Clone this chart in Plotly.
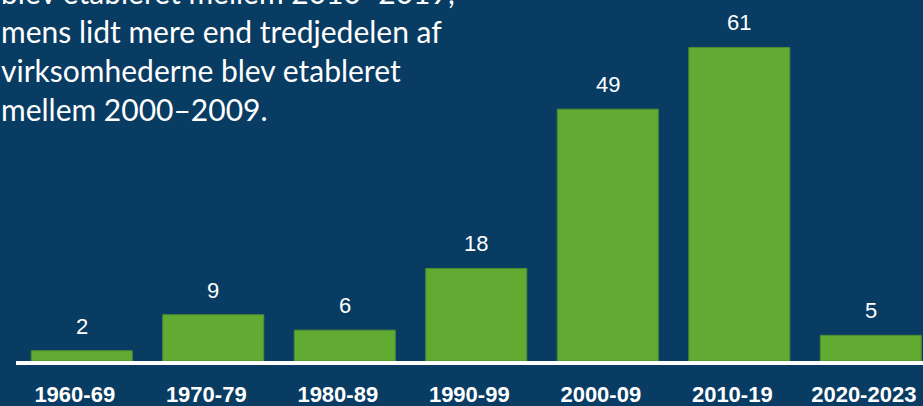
import plotly.graph_objects as go

categories = ["1960-69", "1970-79", "1980-89", "1990-99", "2000-09", "2010-19", "2020-2023"]
values = [2, 9, 6, 18, 49, 61, 5]
value_labels = [str(v) for v in values]
note_lines = [
    "blev etableret mellem 2010–2019,",
    "mens lidt mere end tredjedelen af",
    "virksomhederne blev etableret",
    "mellem 2000–2009.",
]

BG = "#083c62"
GREEN = "#62ab33"

fig = go.Figure()
fig.add_trace(go.Bar(
    x=categories, y=values,
    marker=dict(color=GREEN, line=dict(color="#4f8c32", width=1)),
    hoverinfo="skip",
))
# invisible trace to carry the (slightly shifted) category tick labels
fig.add_trace(go.Scatter(
    x=categories, y=values, xaxis="x2", mode="markers",
    marker=dict(opacity=0), hoverinfo="skip", showlegend=False,
))

for c, v, t in zip(categories, values, value_labels):
    fig.add_annotation(
        x=c, y=v, xref="x", yref="y", text=t, showarrow=False,
        yanchor="bottom", yshift=10,
        font=dict(family="Liberation Sans, Arial", size=22, color="white"),
    )

fig.add_annotation(
    xref="paper", yref="paper", x=-17 / 907, y=0.6425,
    xanchor="left", yanchor="bottom", align="left", showarrow=False,
    text="<br>".join(note_lines),
    font=dict(family="Lato", size=30, color="white"),
)

lo, hi = -0.5, 6.397
shift = 7 / 131.5
fig.update_layout(
    width=923, height=406,
    margin=dict(l=16, r=0, t=0, b=45, autoexpand=False),
    paper_bgcolor=BG, plot_bgcolor=BG,
    bargap=0.232, showlegend=False,
    xaxis=dict(
        type="category", range=[lo, hi], showticklabels=False, automargin=False,
        showline=True, linecolor="white", linewidth=3.5,
        showgrid=False, zeroline=False, ticks="",
    ),
    xaxis2=dict(
        type="category", range=[lo + shift, hi + shift], overlaying="x", anchor="y",
        side="bottom", showline=False, showgrid=False, zeroline=False, automargin=False,
        ticks="outside", ticklen=14, tickcolor="rgba(0,0,0,0)",
        tickfont=dict(family="Liberation Sans, Arial", size=22, color="white", weight="bold"),
    ),
    yaxis=dict(range=[0, 361 / 5.14], visible=False, showgrid=False, zeroline=False,
               automargin=False),
)

fig.write_html(
    "out.html",
    config={"displayModeBar": False},
    post_script="document.body.style.margin='0';document.body.style.background='%s';" % BG,
)
